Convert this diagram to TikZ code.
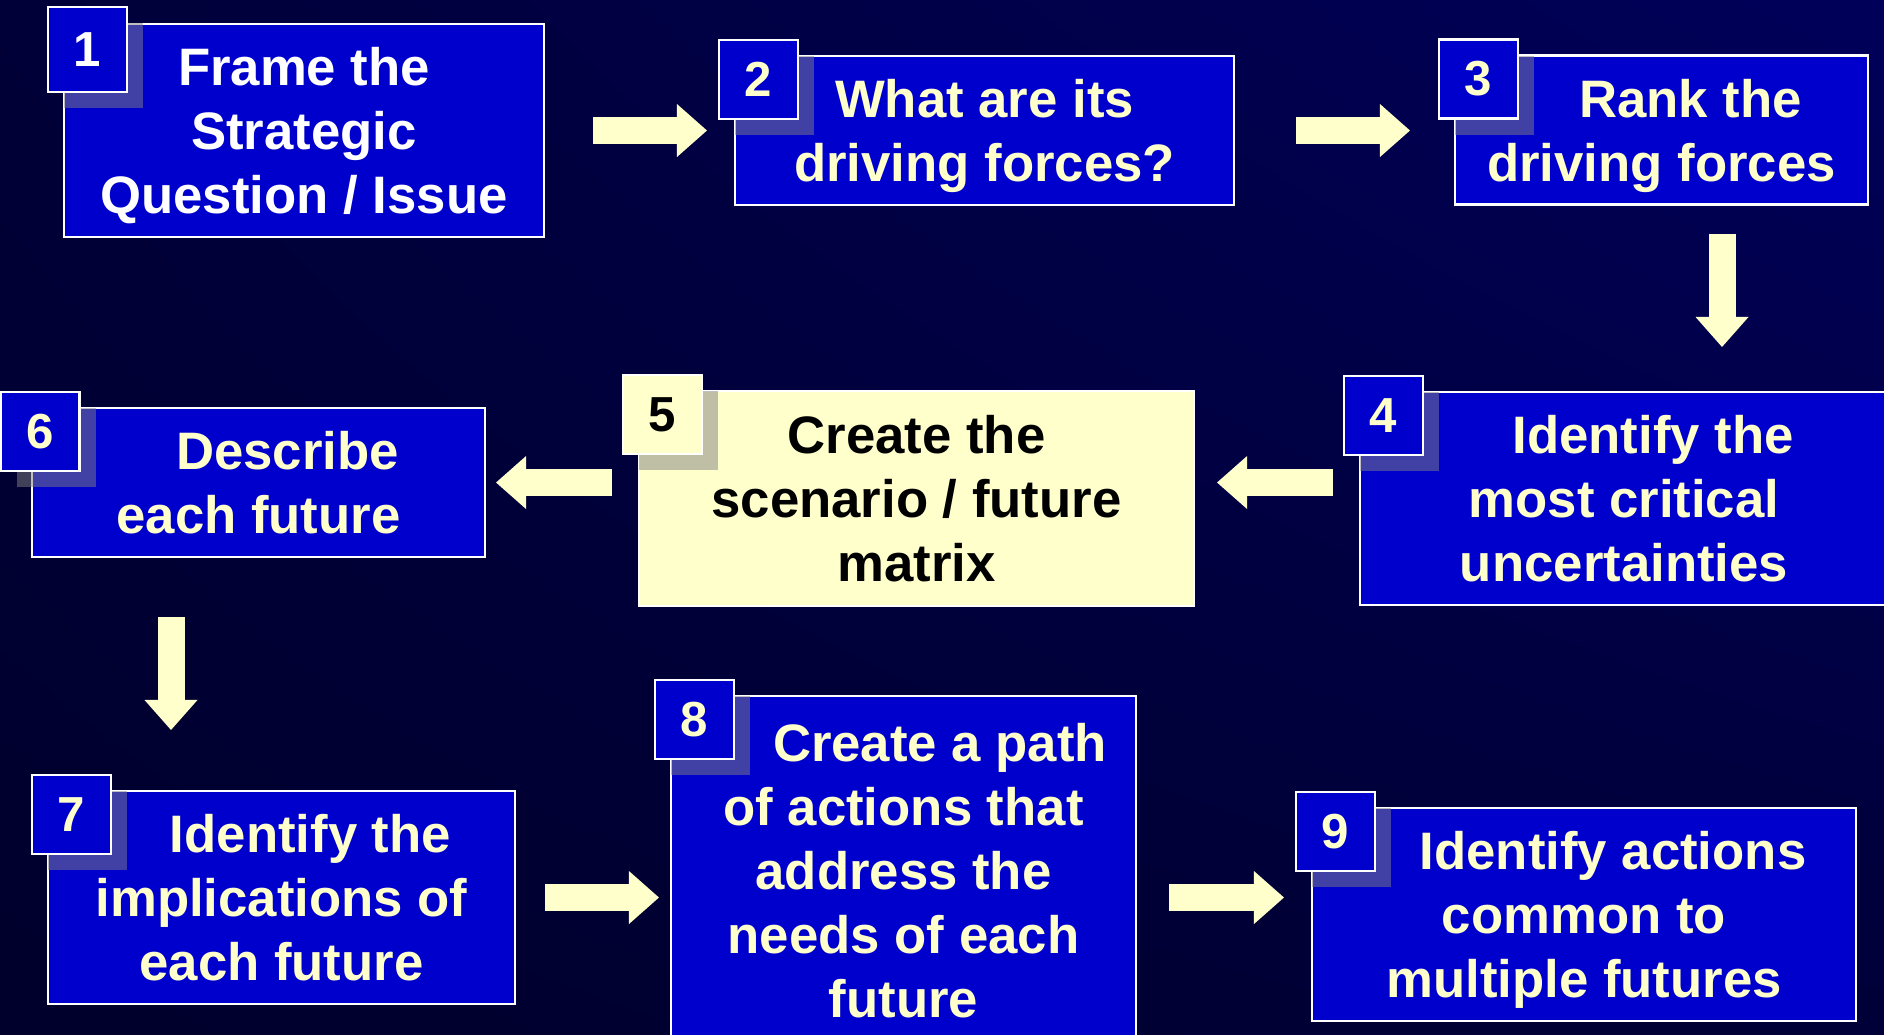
\documentclass[tikz,border=0pt]{standalone}
\usepackage{fontspec}
\setmainfont{Liberation Sans}
\usetikzlibrary{arrows.meta,calc,shadows,shadings}

\definecolor{slideblue}{HTML}{0000CC}
\definecolor{cream}{HTML}{FFFFCC}
\definecolor{bgdark}{HTML}{00002C}
\definecolor{bgmid}{HTML}{000038}
\definecolor{bglight}{HTML}{00005A}

\begin{document}
\begin{tikzpicture}[x=0.1mm, y=-0.1mm,
    every node/.style={inner sep=0pt, align=center},
    stepbox/.style={draw=white, line width=0.6pt, fill=slideblue, text=cream,
      text depth=0pt, font=\bfseries\fontsize{15}{18.2}\selectfont},
    tagbox/.style={draw=white, line width=0.6pt, fill=slideblue, text=cream,
      minimum width=7.9mm, minimum height=7.9mm, anchor=north west,
      drop shadow={shadow xshift=1.6mm, shadow yshift=-1.6mm},
      font=\bfseries\fontsize{14}{16}\selectfont},
    flowarrow/.style={cream, line width=2.7mm,
      -{Triangle[length=3mm, width=5.3mm, line width=0pt]}}]

  \useasboundingbox (0,0) rectangle (1884,1034);
  \clip (0,0) rectangle (1884,1034);
  \shade[upper left=bgmid, upper right=bglight, lower left=bgdark, lower right=bgmid]
    (0,0) rectangle (1884,1034);

  % steps
  \node[stepbox, text=white, minimum width=48mm, minimum height=21.3mm] (b1) at (304,130.5)
    {Frame the\\Strategic\\Question / Issue};
  \node[tagbox, text=white, minimum height=8.5mm] (n1) at ($(b1.north west)+(-16,-17)$) {1};

  \node[stepbox, minimum width=49.9mm, minimum height=14.9mm] (b2) at (984.5,130.5)
    {What are its\\driving forces?};
  \node[tagbox] (n2) at ($(b2.north west)+(-16,-16)$) {2};

  \node[stepbox, minimum width=41.3mm, minimum height=14.9mm] (b3) at (1661.5,130)
    {\hspace*{5.8mm}Rank the\\driving forces};
  \node[tagbox] (n3) at ($(b3.north west)+(-16,-16)$) {3};

  \node[stepbox, minimum width=52.8mm, minimum height=21.3mm] (b4) at (1624,498.5)
    {\hspace*{5.8mm}Identify the\\most critical\\uncertainties};
  \node[tagbox] (n4) at ($(b4.north west)+(-16,-16)$) {4};

  \node[stepbox, fill=cream, text=black, minimum width=55.5mm, minimum height=21.5mm] (b5) at (916.5,498.5)
    {Create the\\scenario / future\\matrix};
  \node[tagbox, fill=cream, text=black] (n5) at ($(b5.north west)+(-16,-16)$) {5};

  \node[stepbox, minimum width=45.3mm, minimum height=14.9mm] (b6) at (258.5,482.5)
    {\hspace*{5.8mm}Describe\\each future};
  \node[tagbox] (n6) at ($(b6.north west)+(-31.5,-16)$) {6};

  \node[stepbox, minimum width=46.7mm, minimum height=21.3mm] (b7) at (281.5,897.5)
    {\hspace*{5.8mm}Identify the\\implications of\\each future};
  \node[tagbox] (n7) at ($(b7.north west)+(-16,-16)$) {7};

  \node[stepbox, minimum width=46.5mm, minimum height=34.8mm] (b8) at (903.5,870)
    {\hspace*{7.3mm}Create a path\\of actions that\\address the\\needs of each\\future};
  \node[tagbox] (n8) at ($(b8.north west)+(-16,-16)$) {8};

  \node[stepbox, minimum width=54.4mm, minimum height=21.3mm] (b9) at (1584,914.5)
    {\hspace*{5.8mm}Identify actions\\common to\\multiple futures};
  \node[tagbox] (n9) at ($(b9.north west)+(-16,-16)$) {9};

  % arrows
  \coordinate (d34) at ($(b3.south)+(60.5,0)$);
  \coordinate (m45) at ($(b4.west)+(0,-16)$);
  \coordinate (d67) at ($(b6.south)+(-87.5,0)$);
  \draw[flowarrow, shorten <=4.8mm, shorten >=1.1mm] (b1.east) -- (b1.east -| n2.west);
  \draw[flowarrow, shorten <=6.1mm, shorten >=2.8mm] (b2.east) -- (b2.east -| n3.west);
  \draw[flowarrow, shorten <=2.8mm, shorten >=2.8mm] (d34) -- (d34 |- n4.north);
  \draw[flowarrow, shorten <=1mm, shorten >=2.2mm] (m45 -| n4.west) -- (m45 -| b5.east);
  \draw[flowarrow, shorten <=1mm, shorten >=1mm] (b6.east -| n5.west) -- (b6.east);
  \draw[flowarrow, shorten <=5.9mm, shorten >=4.4mm] (d67) -- (d67 |- n7.north);
  \draw[flowarrow, shorten <=2.9mm, shorten >=1.1mm] (b7.east) -- (b7.east -| b8.west);
  \draw[flowarrow, shorten <=3.2mm, shorten >=1.1mm] (b7.east -| b8.east) -- (b7.east -| n9.west);
\end{tikzpicture}
\end{document}
